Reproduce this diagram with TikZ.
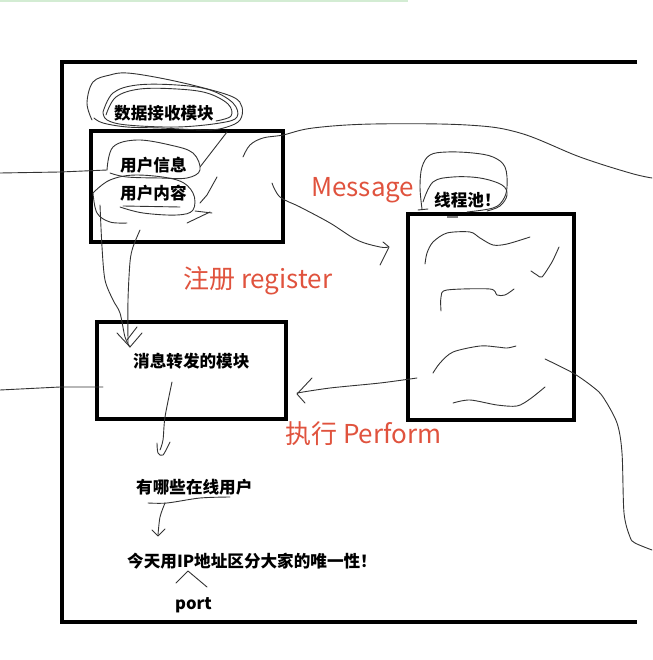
\documentclass[tikz,border=0pt]{standalone}
\usepackage{fontspec}
\setmainfont{Noto Sans CJK SC}
\definecolor{redc}{HTML}{E0533E}
\definecolor{greenl}{HTML}{D3ECD3}
\begin{document}
\begin{tikzpicture}[x=1pt,y=-1pt,
  frame/.style={line width=4pt},
  box/.style={draw, line width=4pt, inner sep=0pt},
  sk/.style={line width=0.9pt, draw=black!80, line cap=round, line join=round},
  lab/.style={font=\bfseries\fontsize{16.6}{18}\selectfont, inner sep=0pt, anchor=west},
  redlab/.style={text=redc, font=\fontsize{26}{30}\selectfont, inner sep=0pt, anchor=west}]
\useasboundingbox (0,0) rectangle (652,660);
% top green line
\draw[greenl, line width=2pt] (0,1) -- (408,1);
% outer frame
\draw[frame] (637,62) -- (62,62) -- (62,622) -- (637,622);
% boxes
\node[box, minimum width=192pt, minimum height=110.5pt] (recv) at (187,186.75) {};
\node[box, minimum width=188.7pt, minimum height=96.7pt] (fwd) at (191.35,370.35) {};
\node[box, minimum width=166.3pt, minimum height=206.6pt] (pool) at (491.15,317) {};
% texts
\node[lab] (t1) at (114,113) {数据接收模块};
\node[lab] (t2) at (120,165) {用户信息};
\node[lab] (t3) at (120,193) {用户内容};
\node[lab] (t4) at (133,361) {消息转发的模块};
\node[lab] (t5) at (136,487) {有哪些在线用户};
\node[lab] (t6) at (127,561) {今天用IP地址区分大家的唯一性！};
\node[lab] (t7) at (175,605) {port};
\node[lab] (t8) at (434,200) {线程池！};
\node[redlab] (r1) at (311,190) {Message};
\node[redlab] (r2) at (183,281) {注册 register};
\node[redlab] (r3) at (285,434) {执行 Perform};
% loops around 数据接收模块
\draw[sk] plot[smooth, tension=0.6] coordinates {(92,120) (87,103) (93,82) (110,75) (127,73) (160,78) (200,87) (233,97) (242,107) (240,120) (227,127) (207,130) (160,128) (127,127) (103,123) (94,118)};
\draw[sk] plot[smooth, tension=0.6] coordinates {(103,112) (113,93) (137,85) (177,85) (210,90) (233,103) (237,117) (220,123) (177,127) (127,125) (107,120) (103,112)};
\draw[sk] plot[smooth, tension=0.6] coordinates {(106,115) (116,97) (140,89) (177,89) (207,93) (228,104) (231,116) (216,121)};
\draw[sk] (227,132) -- (200,167);
\draw[sk] (217,177) -- (207,195) -- (200,203);
% loop around 用户信息
\draw[sk] plot[smooth, tension=0.6] coordinates {(107,170) (113,147) (137,140) (170,145) (193,153) (200,170) (187,178) (160,178) (127,177) (110,173)};
% loop around 用户内容
\draw[sk] plot[smooth, tension=0.6] coordinates {(93,193) (110,180) (137,175) (177,180) (193,193) (193,210) (177,215) (143,213) (120,207)};
\draw[sk] (123,206) -- (180,207);
\draw[sk] plot[smooth, tension=0.6] coordinates {(93,193) (97,213) (110,222) (127,223)};
\draw[sk] (187,223) -- (210,212);
\draw[sk] (195,211) -- (212,213);
% incoming line at left of box 1
\coordinate (in1) at (0,173);
\draw[sk] (in1) -- (60,172) -- (107,170);
% big arc over the top right
\draw[sk] plot[smooth, tension=0.6] coordinates {(243,157) (250,145) (263,138) (283,135) (313,128) (373,124) (467,125) (520,133) (580,157) (630,173) (652,178)};
% Message arrow
\draw[sk] plot[smooth, tension=0.6] coordinates {(272,183) (280,197) (300,207) (330,223) (357,240) (380,247) (388,247)};
\draw[sk] (383,242) -- (389,247) -- (380,265);
% register arrows into forward box
\draw[sk] plot[smooth, tension=0.5] coordinates {(100,205) (102,247) (105,280) (113,300) (120,313) (125,337) (130,347)};
\draw[sk] plot[smooth, tension=0.5] coordinates {(140,230) (133,247) (130,262) (128,300) (128,343)};
\draw[sk] (117,333) -- (130,347) -- (142,333);
\draw[sk] (127,340) -- (137,327);
% incoming line at left of box 2
\coordinate (in2) at (0,390);
\draw[sk] (in2) -- (60,387) -- (103,387);
% Perform arrow
\draw[sk] plot[smooth, tension=0.5] coordinates {(417,378) (380,383) (330,388) (297,393)};
\draw[sk] (312,378) -- (297,394) -- (305,403);
% line leaving the pool box
\draw[sk] plot[smooth, tension=0.5] coordinates {(545,359) (573,373) (593,387) (603,397) (617,423) (622,453) (624,513) (630,537) (635,543) (652,550)};
% scribbles in the pool
\draw[sk] plot[smooth, tension=0.5] coordinates {(425,264) (427,253) (433,242) (447,233) (470,232) (480,238) (493,245) (507,244) (530,237)};
\draw[sk] plot[smooth, tension=0.4] coordinates {(559,247) (552,262) (542,277) (537,275) (531,271)};
\draw[sk] plot[smooth, tension=0.5] coordinates {(441,311) (441,297) (447,290) (490,289) (497,295) (505,295) (514,289)};
\draw[sk] plot[smooth, tension=0.5] coordinates {(433,373) (440,363) (453,352) (480,346) (497,347) (507,348) (516,346)};
\draw[sk] plot[smooth, tension=0.5] coordinates {(453,403) (470,400) (497,405) (517,406) (530,399) (545,387)};
% loops over 线程池
\draw[sk] plot[smooth, tension=0.6] coordinates {(422,209) (420,187) (422,167) (430,155) (447,152) (473,153) (493,157) (505,167) (507,187) (503,200) (493,208) (467,212)};
\draw[sk] plot[smooth, tension=0.6] coordinates {(423,202) (433,182) (453,177) (480,178) (502,185) (507,195) (500,206) (487,211)};
\draw[sk] (418,210) -- (428,209);
\draw[gray, line width=1.5pt] (447,217) -- (458,217);
% from forward box down to online users
\draw[sk] plot[smooth, tension=0.5] coordinates {(172,382) (165,417) (163,440) (160,450)};
\draw[sk] plot[smooth, tension=0.5] coordinates {(157,443) (158,453) (163,455) (170,442)};
% under online users, arrow down
\draw[sk] plot[smooth, tension=0.5] coordinates {(148,503) (167,503) (200,498) (230,497)};
\draw[sk] plot[smooth, tension=0.5] coordinates {(165,503) (160,517) (158,535)};
\draw[sk] (152,530) -- (158,536) -- (165,529);
% port caret
\draw[sk] (176,583) -- (188,571) -- (207,587);
\end{tikzpicture}
\end{document}
